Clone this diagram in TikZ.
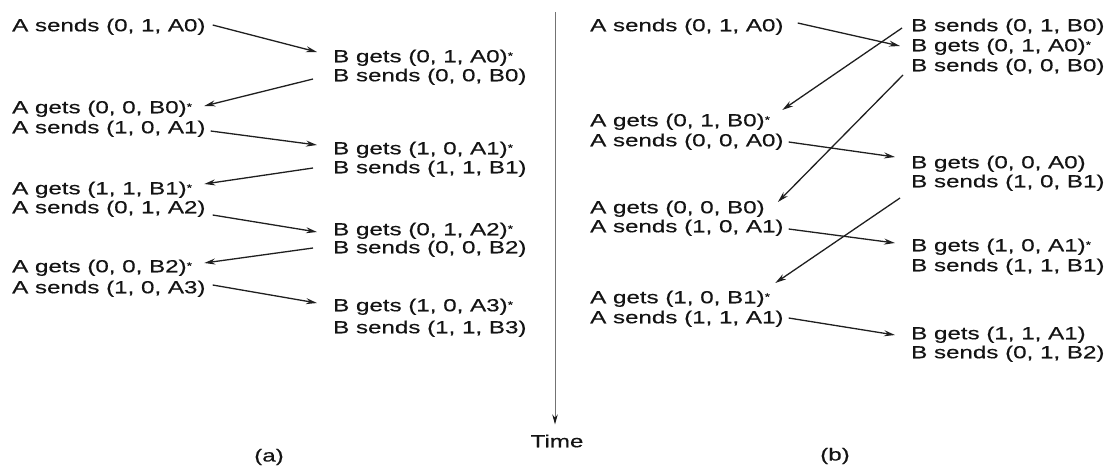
\documentclass[tikz,border=0pt]{standalone}
\usepackage{fontspec}
\setmainfont{Liberation Sans}[FakeStretch=1.38,FakeBold=0.35]
\usetikzlibrary{arrows.meta}
\newcommand{\st}{\raisebox{3pt}{\fontsize{10}{10}\selectfont *}}
\tikzset{
  txt/.style={anchor=west, inner sep=0pt, text height=12.5pt, text depth=0pt,
    font=\fontsize{17.5}{20}\selectfont, text=black!92},
  msg/.style={line width=1.3pt, black!88, -{Stealth[length=11pt,width=6pt]}},
  timeline/.style={line width=0.9pt, black!55, -{Stealth[length=10pt,width=5.5pt,black!90]}},
  lbl/.style={inner sep=0pt, font=\fontsize{17.5}{20}\selectfont, text=black!92}
}
\begin{document}
\begin{tikzpicture}[x=1pt,y=-1pt]
\useasboundingbox (0,0) rectangle (1107,467);
% ---------- (a) ----------
\node[txt] (LA1) at (12,25)  {A sends (0, 1, A0)};
\node[txt] (LA2) at (12,107) {A gets (0, 0, B0)\st};
\node[txt] (LA3) at (12,127) {A sends (1, 0, A1)};
\node[txt] (LA4) at (12,188) {A gets (1, 1, B1)\st};
\node[txt] (LA5) at (12,207) {A sends (0, 1, A2)};
\node[txt] (LA6) at (12,266) {A gets (0, 0, B2)\st};
\node[txt] (LA7) at (12,287) {A sends (1, 0, A3)};
\node[txt] (RB1) at (333,56)  {B gets (0, 1, A0)\st};
\node[txt] (RB2) at (333,75)  {B sends (0, 0, B0)};
\node[txt] (RB3) at (333,148) {B gets (1, 0, A1)\st};
\node[txt] (RB4) at (333,167) {B sends (1, 1, B1)};
\node[txt] (RB5) at (333,229) {B gets (0, 1, A2)\st};
\node[txt] (RB6) at (333,247) {B sends (0, 0, B2)};
\node[txt] (RB7) at (333,305) {B gets (1, 0, A3)\st};
\node[txt] (RB8) at (333,327) {B sends (1, 1, B3)};
\draw[msg] ([shift={(7,0)}]LA1.east) -- ([shift={(-16,-4)}]RB1.west);
\draw[msg] ([shift={(-20,4)}]RB2.west) -- ([shift={(12,-1)}]LA2.east);
\draw[msg] ([shift={(5,4)}]LA3.east) -- ([shift={(-16,-3)}]RB3.west);
\draw[msg] ([shift={(-20,1)}]RB4.west) -- ([shift={(12,-4)}]LA4.east);
\draw[msg] ([shift={(7,8)}]LA5.east) -- ([shift={(-16,3)}]RB5.west);
\draw[msg] ([shift={(-20,1)}]RB6.west) -- ([shift={(12,-3)}]LA6.east);
\draw[msg] ([shift={(7,-2)}]LA7.east) -- ([shift={(-16,-2)}]RB7.west);
\node[lbl] (la) at (269,457) {(a)};
% ---------- time axis ----------
\coordinate (ttop) at (555,12);
\node[lbl] (time) at (557,441) {Time};
\draw[timeline] (ttop) -- ([shift={(-2,-10)}]time.north);
% ---------- (b) ----------
\node[txt] (LB1) at (590,25)  {A sends (0, 1, A0)};
\node[txt] (LB2) at (590,120) {A gets (0, 1, B0)\st};
\node[txt] (LB3) at (590,140) {A sends (0, 0, A0)};
\node[txt] (LB4) at (590,207) {A gets (0, 0, B0)};
\node[txt] (LB5) at (590,226) {A sends (1, 0, A1)};
\node[txt] (LB6) at (590,297) {A gets (1, 0, B1)\st};
\node[txt] (LB7) at (590,317) {A sends (1, 1, A1)};
\node[txt] (RC1) at (911,25)  {B sends (0, 1, B0)};
\node[txt] (RC2) at (911,45)  {B gets (0, 1, A0)\st};
\node[txt] (RC3) at (911,65)  {B sends (0, 0, B0)};
\node[txt] (RC4) at (911,162) {B gets (0, 0, A0)};
\node[txt] (RC5) at (911,181) {B sends (1, 0, B1)};
\node[txt] (RC6) at (911,245) {B gets (1, 0, A1)\st};
\node[txt] (RC7) at (911,265) {B sends (1, 1, B1)};
\node[txt] (RC8) at (911,333) {B gets (1, 1, A1)};
\node[txt] (RC9) at (911,352) {B sends (0, 1, B2)};
\draw[msg] ([shift={(14,-2)}]LB1.east) -- ([shift={(-11,1)}]RC2.west);
\draw[msg] ([shift={(-9,3)}]RC1.west) -- ([shift={(12,-10)}]LB2.east);
\draw[msg] ([shift={(-8,10)}]RC3.west) -- ([shift={(13,-5)}]LB4.east);
\draw[msg] ([shift={(5,2)}]LB3.east) -- ([shift={(-16,-5)}]RC4.west);
\draw[msg] ([shift={(-11,17)}]RC5.west) -- ([shift={(5,-14)}]LB6.east);
\draw[msg] ([shift={(5,3)}]LB5.east) -- ([shift={(-16,-2)}]RC6.west);
\draw[msg] ([shift={(5,1)}]LB7.east) -- ([shift={(-16,2)}]RC8.west);
\node[lbl] (lb) at (835,456) {(b)};
\end{tikzpicture}
\end{document}
